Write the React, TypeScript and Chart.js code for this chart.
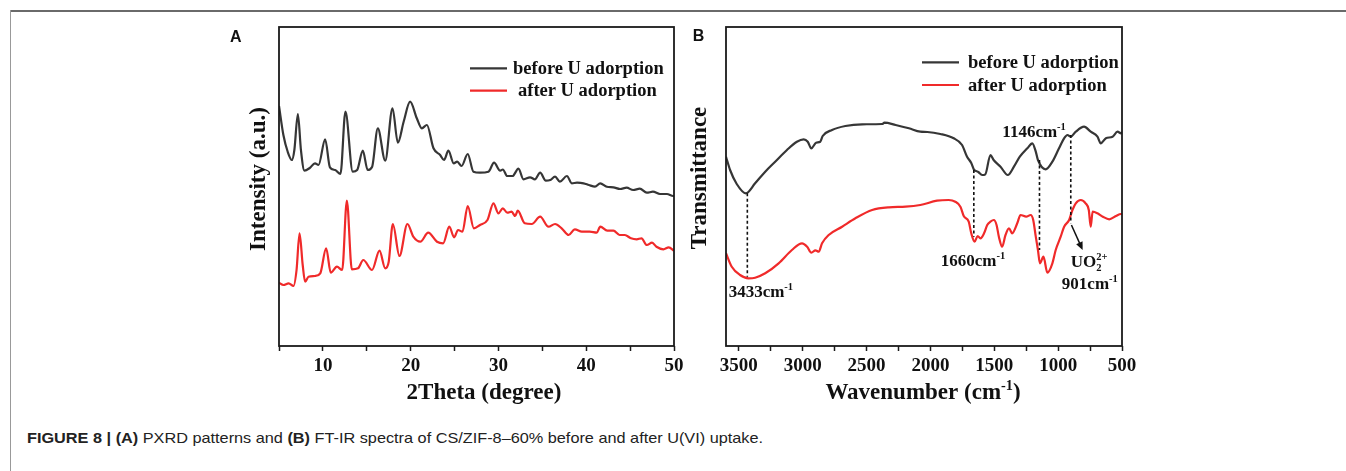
import React, { useEffect, useLayoutEffect, useRef } from 'react';
import { Chart, registerables } from 'chart.js';

Chart.register(...registerables);

// ---------- Panel A: PXRD ----------
const xrdThetaBefore = [5.0, 5.5, 6.0, 6.47, 6.75, 7.15, 7.5, 7.9, 8.5, 9.1, 9.5, 10.26, 10.8, 11.4, 12.0, 12.57, 13.4, 13.9, 14.55, 15.1, 15.6, 16.26, 17.1, 17.93, 18.54, 19.2, 19.94, 20.7, 21.27, 21.85, 22.6, 23.36, 23.8, 24.3, 24.9, 25.3, 25.8, 26.5, 27.15, 27.9, 28.86, 29.5, 30.2, 30.5, 31.0, 31.6, 32.28, 32.85, 33.6, 34.15, 34.75, 35.4, 35.9, 36.45, 37.0, 37.8, 38.36, 38.95, 39.7, 40.3, 41.0, 41.6, 42.35, 43.1, 43.85, 44.6, 45.35, 46.1, 46.9, 47.6, 48.4, 49.2, 49.9, 50.0];
const xrdBefore = [240, 211, 194, 186, 196, 232, 196, 175.3, 178, 182.7, 181, 206.7, 178.7, 176, 172, 234.3, 174.3, 176, 195.3, 176, 179, 217.7, 185.3, 237.7, 203.3, 224.3, 244.3, 227.7, 217.7, 221, 197.7, 191, 186, 195.3, 182.7, 184.3, 180, 192, 174.3, 173.3, 174.3, 183.3, 175.3, 176.5, 170, 170, 177.3, 166.7, 168.7, 166.7, 173.3, 165.3, 166, 169.3, 164.3, 170, 162.7, 163.3, 162.7, 161, 159.3, 162.7, 159.3, 158.7, 157, 158.3, 156, 157.3, 153.3, 154.3, 152, 152, 150, 150];

const xrdThetaAfter = [5.0, 5.5, 6.1, 6.65, 7.0, 7.34, 7.7, 7.98, 8.36, 9.1, 9.7, 10.37, 10.9, 11.6, 12.2, 12.73, 13.3, 14.0, 14.6, 15.6, 16.45, 17.1, 17.5, 17.97, 18.72, 19.63, 20.3, 21.1, 22.0, 23.0, 23.7, 24.4, 24.95, 25.4, 25.9, 26.5, 27.2, 27.9, 28.75, 29.43, 30.0, 30.5, 31.0, 31.5, 31.9, 32.2, 33.0, 33.8, 34.75, 35.7, 36.45, 37.2, 38.0, 38.7, 39.5, 40.4, 41.2, 41.6, 42.4, 43.1, 43.8, 44.4, 45.1, 45.75, 46.3, 46.9, 47.5, 48.0, 48.8, 49.4, 50.0];
const xrdAfter = [63.3, 61, 62.7, 60, 76, 112.7, 81, 64.3, 69.3, 70, 72.7, 97.7, 73.3, 79.3, 76, 145.3, 76.7, 77.7, 86, 76, 95.3, 77.7, 84.3, 122, 90, 122, 109.3, 104.3, 113.3, 104.3, 102.7, 119.3, 108.7, 116, 114.3, 140, 117.7, 121, 126, 142.7, 132.7, 137.7, 133.3, 134.3, 130, 135.3, 122.7, 122, 129.3, 119.3, 122, 117.7, 111, 116.7, 114.3, 114.3, 113.3, 119.3, 115.3, 115.3, 111, 111, 107.7, 106.7, 107.7, 101, 103.3, 99.3, 96.7, 98.7, 95.3];

const xrdTicks = [5, 10, 15, 20, 25, 30, 35, 40, 45, 50];
const xrdTickLabels = [10, 20, 30, 40, 50];

// ---------- Panel B: FT-IR ----------
const irWaveBefore = [3600, 3568, 3516, 3445, 3372, 3293, 3215, 3123, 3045, 2992, 2960, 2932, 2895, 2862, 2843, 2770, 2666, 2534, 2377, 2360, 2272, 2168, 2079, 2024, 1922, 1818, 1752, 1713, 1680, 1660, 1625, 1595, 1570, 1530, 1505, 1451, 1394, 1346, 1300, 1241, 1202, 1175, 1158, 1098, 1045, 993, 953, 927, 901, 862, 797, 745, 692, 666, 626, 574, 535, 508, 500];
const irBefore = [189.3, 176, 162, 152.7, 162.7, 174.3, 184.3, 196, 204.3, 206.7, 204.3, 197.7, 203.3, 204.3, 210, 216, 220, 221.7, 222, 223.3, 221, 217.7, 214.3, 214, 212, 207.7, 201, 189.3, 183, 176.7, 174, 171, 171.7, 191, 186, 179.3, 171, 179.3, 189.3, 197.7, 202.7, 194.3, 186, 176.7, 184.3, 197.7, 207.7, 211, 209.3, 214.3, 219.3, 214.3, 209.3, 202.7, 207.7, 209.3, 214.3, 212.7, 214];

const irWaveAfter = [3600, 3555, 3490, 3424, 3372, 3293, 3188, 3084, 3005, 2965, 2932, 2900, 2874, 2848, 2796, 2691, 2587, 2456, 2325, 2194, 2079, 1948, 1857, 1805, 1765, 1739, 1700, 1680, 1654, 1630, 1608, 1580, 1555, 1530, 1503, 1482, 1464, 1438, 1412, 1385, 1360, 1320, 1294, 1250, 1215, 1195, 1175, 1158, 1142, 1115, 1084, 1045, 1019, 980, 953, 914, 888, 862, 823, 785, 760, 745, 730, 692, 650, 600, 547, 508, 500];
const irAfter = [92.7, 79.3, 71, 67.7, 68.3, 72.7, 82.7, 96, 102.7, 99.3, 93.3, 95.7, 94.3, 102.7, 111, 119.3, 127.7, 136, 138.7, 139.3, 141, 145.3, 146, 144.3, 139.3, 130, 124.3, 112.7, 104.3, 110, 107.7, 112.7, 121, 124.3, 126, 121, 109.3, 99.3, 111, 117.7, 112.7, 122.7, 131, 129.3, 131, 126, 109.3, 96, 82.7, 89.3, 73.3, 82.7, 96, 109.3, 119.3, 126, 136, 142.7, 146, 142.7, 136, 119.3, 134.3, 132.7, 129.3, 126.7, 130, 132, 132];

const irTicks = [3500, 3250, 3000, 2750, 2500, 2250, 2000, 1750, 1500, 1250, 1000, 750, 500];
const irTickLabels = [3500, 3000, 2500, 2000, 1500, 1000, 500];

// peak markers (wavenumber, curve values at the dashed-line ends)
const peakWaves = [3433, 1660, 1146, 901];
const peakTop = [152.7, 176, 186, 211];
const peakBottom = [69.3, 109.3, 96, 122.7];

const seriesNames = ['before U adorption', 'after U adorption'];
const seriesColors = ['#363636', '#f02a2a'];

type Seg = { t: string; k?: 'sup' | 'sub'; hold?: boolean };

const peakLabels: { segs: Seg[]; w: number; v: number; align: 'left' | 'center' }[] = [
  { segs: [{ t: '3433cm' }, { t: '-1', k: 'sup' }], w: 3327, v: 55, align: 'center' },
  { segs: [{ t: '1660cm' }, { t: '-1', k: 'sup' }], w: 1667, v: 85.5, align: 'center' },
  { segs: [{ t: '1146cm' }, { t: '-1', k: 'sup' }], w: 1188, v: 214.5, align: 'center' },
  { segs: [{ t: 'UO' }, { t: '2', k: 'sub', hold: true }, { t: '2+', k: 'sup' }], w: 902, v: 84.5, align: 'left' },
  { segs: [{ t: '901cm' }, { t: '-1', k: 'sup' }], w: 752, v: 63, align: 'center' },
];
const arrowFrom = [896, 121];
const arrowTo = [808, 96];

const SERIF = '"Liberation Serif", "Times New Roman", serif';
const SANS = '"Liberation Sans", Arial, sans-serif';

function drawRich(ctx: CanvasRenderingContext2D, segs: Seg[], x: number, midY: number, size: number, align: 'left' | 'center') {
  const big = `bold ${size}px ${SERIF}`;
  const small = `bold ${(size * 0.62).toFixed(1)}px ${SERIF}`;
  const widths = segs.map((s) => {
    ctx.font = s.k ? small : big;
    return ctx.measureText(s.t).width;
  });
  let total = 0;
  segs.forEach((s, i) => {
    if (!s.hold) total += widths[i];
  });
  let cx = align === 'center' ? x - total / 2 : x;
  const base = midY + size * 0.34;
  ctx.save();
  ctx.fillStyle = '#111';
  ctx.textBaseline = 'alphabetic';
  ctx.textAlign = 'left';
  segs.forEach((s, i) => {
    ctx.font = s.k ? small : big;
    const dy = s.k === 'sup' ? -size * 0.4 : s.k === 'sub' ? size * 0.22 : 0;
    ctx.fillText(s.t, cx, base + dy);
    if (!s.hold) cx += widths[i];
  });
  ctx.restore();
}

interface Deco {
  letter: string;
  letterX: number;
  letterY: number;
  yTitle: Seg[];
  yTitleX: number;
  yTitleY: number;
  xTitle: Seg[];
  xTitleX: number;
  xTitleY: number;
  legX0: number;
  legX1: number;
  legTextX: number[];
  legY: number[];
  extra?: (chart: any) => void;
}

function decoPlugin(d: Deco) {
  return {
    id: 'deco' + d.letter,
    afterDraw(chart: any) {
      const ctx: CanvasRenderingContext2D = chart.ctx;
      const { left, top, right, bottom } = chart.chartArea;
      ctx.save();
      // frame
      ctx.strokeStyle = '#1a1a1a';
      ctx.lineWidth = 1.8;
      ctx.strokeRect(left, top, right - left, bottom - top);
      // panel letter
      ctx.fillStyle = '#111';
      ctx.font = `bold 16px ${SANS}`;
      ctx.textBaseline = 'middle';
      ctx.textAlign = 'left';
      ctx.fillText(d.letter, d.letterX, d.letterY);
      // titles
      drawRich(ctx, d.xTitle, d.xTitleX, d.xTitleY, 23, 'center');
      ctx.save();
      ctx.translate(d.yTitleX, d.yTitleY);
      ctx.rotate(-Math.PI / 2);
      drawRich(ctx, d.yTitle, 0, 0, 23, 'center');
      ctx.restore();
      // legend
      seriesNames.forEach((name, i) => {
        ctx.strokeStyle = seriesColors[i];
        ctx.lineWidth = 2.2;
        ctx.beginPath();
        ctx.moveTo(d.legX0, d.legY[i]);
        ctx.lineTo(d.legX1, d.legY[i]);
        ctx.stroke();
        ctx.fillStyle = '#111';
        ctx.font = `bold 18.5px ${SERIF}`;
        ctx.textBaseline = 'middle';
        ctx.textAlign = 'left';
        ctx.fillText(name, d.legTextX[i], d.legY[i] + 1);
      });
      ctx.restore();
      if (d.extra) d.extra(chart);
    },
  };
}

function irExtras(chart: any) {
  const ctx: CanvasRenderingContext2D = chart.ctx;
  const xs = chart.scales.x;
  const ys = chart.scales.y;
  ctx.save();
  ctx.strokeStyle = '#111';
  ctx.lineWidth = 1.6;
  ctx.setLineDash([3, 2.5]);
  peakWaves.forEach((w, i) => {
    const px = xs.getPixelForValue(w);
    ctx.beginPath();
    ctx.moveTo(px, ys.getPixelForValue(peakTop[i]));
    ctx.lineTo(px, ys.getPixelForValue(peakBottom[i]));
    ctx.stroke();
  });
  ctx.setLineDash([]);
  // arrow
  const x0 = xs.getPixelForValue(arrowFrom[0]);
  const y0 = ys.getPixelForValue(arrowFrom[1]);
  const x1 = xs.getPixelForValue(arrowTo[0]);
  const y1 = ys.getPixelForValue(arrowTo[1]);
  const ang = Math.atan2(y1 - y0, x1 - x0);
  const hl = 8;
  const hw = 3.5;
  ctx.lineWidth = 1.5;
  ctx.beginPath();
  ctx.moveTo(x0, y0);
  ctx.lineTo(x1 - Math.cos(ang) * hl * 0.8, y1 - Math.sin(ang) * hl * 0.8);
  ctx.stroke();
  ctx.fillStyle = '#111';
  ctx.beginPath();
  ctx.moveTo(x1, y1);
  ctx.lineTo(x1 - Math.cos(ang) * hl - Math.sin(ang) * hw, y1 - Math.sin(ang) * hl + Math.cos(ang) * hw);
  ctx.lineTo(x1 - Math.cos(ang) * hl + Math.sin(ang) * hw, y1 - Math.sin(ang) * hl - Math.cos(ang) * hw);
  ctx.closePath();
  ctx.fill();
  ctx.restore();
  peakLabels.forEach((l) => {
    drawRich(ctx, l.segs, xs.getPixelForValue(l.w), ys.getPixelForValue(l.v), 17, l.align);
  });
}

const tickFont = { family: SERIF, size: 19, weight: 'bold' as const };

function buildConfig(p: {
  sets: { x: number[]; y: number[] }[];
  min: number;
  max: number;
  reverse: boolean;
  ticks: number[];
  labels: number[];
  yAxisWidth: number;
  padRight: number;
  deco: Deco;
}) {
  return {
    type: 'line' as const,
    data: {
      datasets: p.sets.map((s, i) => ({
        label: seriesNames[i],
        data: s.x.map((x, j) => ({ x, y: s.y[j] })),
        borderColor: seriesColors[i],
        borderWidth: 2.2,
        pointRadius: 0,
        fill: false,
        cubicInterpolationMode: 'monotone' as const,
      })),
    },
    options: {
      responsive: false,
      animation: false as const,
      events: [],
      layout: { padding: { left: 0, top: 27, right: p.padRight, bottom: 0 } },
      plugins: { legend: { display: false }, tooltip: { enabled: false }, title: { display: false } },
      scales: {
        x: {
          type: 'linear' as const,
          min: p.min,
          max: p.max,
          reverse: p.reverse,
          afterBuildTicks: (s: any) => {
            s.ticks = p.ticks.map((v) => ({ value: v }));
          },
          ticks: {
            autoSkip: false,
            maxRotation: 0,
            minRotation: 0,
            font: tickFont,
            color: '#111',
            padding: 4,
            callback: (v: any) => (p.labels.includes(Number(v)) ? String(v) : ''),
          },
          grid: {
            display: true,
            drawOnChartArea: false,
            drawTicks: true,
            tickLength: 5,
            tickWidth: 1.5,
            tickColor: '#1a1a1a',
          },
          border: { display: false },
          afterFit: (s: any) => {
            s.height = 74;
            s.paddingLeft = 0;
            s.paddingRight = 0;
          },
        },
        y: {
          type: 'linear' as const,
          min: 0,
          max: 319,
          ticks: { display: false },
          grid: { display: false },
          border: { display: false },
          afterFit: (s: any) => {
            s.width = p.yAxisWidth;
            s.paddingTop = 0;
            s.paddingBottom = 0;
          },
        },
      },
    },
    plugins: [decoPlugin(p.deco)],
  };
}

const configA = () =>
  buildConfig({
    sets: [
      { x: xrdThetaBefore, y: xrdBefore },
      { x: xrdThetaAfter, y: xrdAfter },
    ],
    min: 5,
    max: 50,
    reverse: false,
    ticks: xrdTicks,
    labels: xrdTickLabels,
    yAxisWidth: 279,
    padRight: 26,
    deco: {
      letter: 'A',
      letterX: 230,
      letterY: 38,
      yTitle: [{ t: 'Intensity (a.u.)' }],
      yTitleX: 257,
      yTitleY: 179,
      xTitle: [{ t: '2Theta (degree)' }],
      xTitleX: 484,
      xTitleY: 391,
      legX0: 470,
      legX1: 507,
      legTextX: [513, 518],
      legY: [68.3, 90.7],
    },
  });

const configB = () =>
  buildConfig({
    sets: [
      { x: irWaveBefore, y: irBefore },
      { x: irWaveAfter, y: irAfter },
    ],
    min: 500,
    max: 3600,
    reverse: true,
    ticks: irTicks,
    labels: irTickLabels,
    yAxisWidth: 46,
    padRight: 18,
    deco: {
      letter: 'B',
      letterX: 12.7,
      letterY: 37,
      yTitle: [{ t: 'Transmittance' }],
      yTitleX: 18,
      yTitleY: 178,
      xTitle: [{ t: 'Wavenumber (cm' }, { t: '-1', k: 'sup' }, { t: ')' }],
      xTitleX: 243,
      xTitleY: 391.5,
      legX0: 242,
      legX1: 279,
      legTextX: [288, 288],
      legY: [62.3, 85],
      extra: irExtras,
    },
  });

function Panel({ left, width, height, build }: { left: number; width: number; height: number; build: () => any }) {
  const ref = useRef<HTMLCanvasElement>(null);
  useEffect(() => {
    const chart = new Chart(ref.current as HTMLCanvasElement, build());
    return () => chart.destroy();
  }, [build]);
  return (
    <canvas
      ref={ref}
      width={width}
      height={height}
      style={{ position: 'absolute', left, top: 0, width, height }}
    />
  );
}

function Caption() {
  const ref = useRef<HTMLSpanElement>(null);
  useLayoutEffect(() => {
    const el = ref.current;
    if (!el) return;
    el.style.transform = 'none';
    const w = el.getBoundingClientRect().width;
    if (w > 0) el.style.transform = `scaleX(${736 / w})`;
  }, []);
  return (
    <span
      ref={ref}
      style={{
        position: 'absolute',
        left: 27,
        top: 429,
        whiteSpace: 'nowrap',
        display: 'inline-block',
        transformOrigin: '0 0',
        fontFamily: '"Liberation Sans Narrow", "Liberation Sans", Arial, sans-serif',
        fontSize: 15,
        lineHeight: '18px',
        color: '#222',
      }}
    >
      <b>FIGURE 8 |</b> <b>(A)</b> PXRD patterns and <b>(B)</b> FT-IR spectra of CS/ZIF-8–60% before and after U(VI) uptake.
    </span>
  );
}

export default function App() {
  return (
    <div
      style={{
        position: 'absolute',
        left: 0,
        top: 0,
        width: 1346,
        height: 471,
        overflow: 'hidden',
        background: '#fff',
      }}
    >
      <div style={{ position: 'absolute', left: 10, top: 10, width: 1336, height: 0, borderTop: '2px solid #6a6a6a' }} />
      <div style={{ position: 'absolute', left: 10, top: 10, width: 0, height: 461, borderLeft: '1px solid #999' }} />
      <Panel left={0} width={700} height={420} build={configA} />
      <Panel left={680} width={460} height={420} build={configB} />
      <Caption />
    </div>
  );
}
